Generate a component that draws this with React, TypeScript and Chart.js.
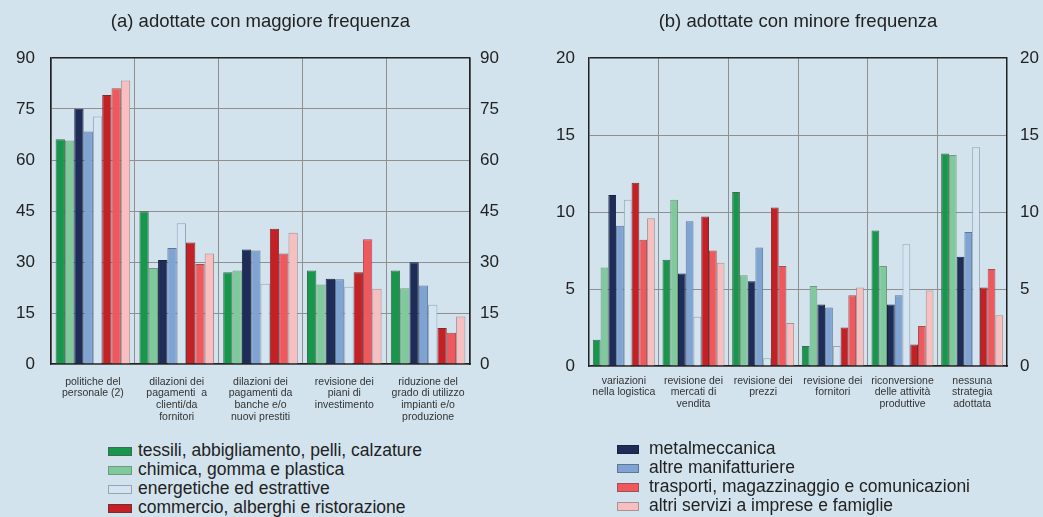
import React, { useEffect, useRef } from "react";
import { Chart, registerables } from "chart.js";
Chart.register(...registerables);

const FONT = "'Liberation Sans', Arial, Helvetica, sans-serif";
const BG = "#d2e3ed";

const seriesNames = [
  "tessili, abbigliamento, pelli, calzature",
  "chimica, gomma e plastica",
  "metalmeccanica",
  "altre manifatturiere",
  "energetiche ed estrattive",
  "commercio, alberghi e ristorazione",
  "trasporti, magazzinaggio e comunicazioni",
  "altri servizi a imprese e famiglie",
];
const seriesColors = ["#17964c", "#7fc99c", "#1e2c58", "#7fa3d3", "#d3e5f3", "#c42127", "#ef595d", "#f7bfc0"];
const seriesEdges = ["#3f6b50", "#6f9a80", "#1a2240", "#5f7694", "#98a4ae", "#7f2a2d", "#9e5254", "#a99192"];

// Panel (a)
const titleA = "(a) adottate con maggiore frequenza";
const categoriesA = [
  ["politiche del", "personale (2)"],
  ["dilazioni dei", "pagamenti  a", "clienti/da", "fornitori"],
  ["dilazioni dei", "pagamenti da", "banche e/o", "nuovi prestiti"],
  ["revisione dei", "piani di", "investimento"],
  ["riduzione del", "grado di utilizzo", "impianti e/o", "produzione"],
];
const tessiliA = [66.1, 44.9, 27.0, 27.5, 27.5];
const chimicaA = [65.7, 28.2, 27.5, 23.4, 22.3];
const metalA = [75.1, 30.6, 33.7, 25.1, 29.9];
const altreManA = [68.4, 34.1, 33.4, 24.9, 23.1];
const energA = [72.8, 41.4, 23.6, 22.7, 17.4];
const commA = [79.1, 35.7, 39.8, 27.0, 10.6];
const traspA = [81.1, 29.4, 32.5, 36.7, 9.2];
const altriServA = [83.4, 32.5, 38.6, 22.1, 14.0];
const yMaxA = 90;
const yStepA = 15;

// Panel (b)
const titleB = "(b) adottate con minore frequenza";
const categoriesB = [
  ["variazioni", "nella logistica"],
  ["revisione dei", "mercati di", "vendita"],
  ["revisione dei", "prezzi"],
  ["revisione dei", "fornitori"],
  ["riconversione", "delle attività", "produttive"],
  ["nessuna", "strategia", "adottata"],
];
const tessiliB = [1.7, 6.9, 11.3, 1.3, 8.8, 13.8];
const chimicaB = [6.4, 10.8, 5.9, 5.2, 6.5, 13.7];
const metalB = [11.1, 6.0, 5.5, 4.0, 4.0, 7.1];
const altreManB = [9.1, 9.4, 7.7, 3.8, 4.6, 8.7];
const energB = [10.8, 3.2, 0.5, 1.3, 7.9, 14.2];
const commB = [11.9, 9.7, 10.3, 2.5, 1.4, 5.1];
const traspB = [8.2, 7.5, 6.5, 4.6, 2.6, 6.3];
const altriServB = [9.6, 6.7, 2.8, 5.1, 4.9, 3.3];
const yMaxB = 20;
const yStepB = 5;

const legendLeftIdx = [0, 1, 4, 5];
const legendRightIdx = [2, 3, 6, 7];

type Dims = {
  leftW: number;
  rightW: number;
  xH: number;
  leftPad: number;
  rightPad: number;
  xPad: number;
};

function makeConfig(title: string, labels: string[][], series: number[][], yMax: number, step: number, d: Dims): any {
  const gridColor = (ctx: any) => (ctx.tick && ctx.tick.value === yMax ? "#222" : "#8f8f8f");
  const gridWidth = (ctx: any) => (ctx.tick && ctx.tick.value === yMax ? 1.5 : 1);
  return {
    type: "bar",
    data: {
      labels,
      datasets: series.map((vals, i) => ({
        label: seriesNames[i],
        data: vals,
        backgroundColor: seriesColors[i],
        borderColor: seriesEdges[i],
        borderWidth: 1,
        categoryPercentage: 0.89,
        barPercentage: 1,
        yAxisID: "y",
      })),
    },
    options: {
      responsive: false,
      maintainAspectRatio: false,
      animation: false,
      layout: { padding: 0 },
      plugins: {
        legend: { display: false },
        tooltip: { enabled: false },
        title: {
          display: true,
          text: title,
          fullSize: false,
          color: "#222",
          font: { family: FONT, size: 18.5, weight: "normal", lineHeight: 1.2 },
          padding: { top: 11, bottom: 24.8 },
        },
      },
      scales: {
        x: {
          position: "bottom",
          grid: { color: "#8f8f8f", offset: true, drawTicks: false },
          border: { color: "#222", width: 1.5 },
          ticks: {
            color: "#333",
            autoSkip: false,
            maxRotation: 0,
            minRotation: 0,
            padding: d.xPad,
            font: { family: FONT, size: 10.5, lineHeight: 1.115 },
          },
          afterFit: (s: any) => {
            s.height = d.xH;
          },
        },
        y: {
          position: "left",
          min: 0,
          max: yMax,
          grid: { color: gridColor, lineWidth: gridWidth, drawTicks: false },
          border: { color: "#222", width: 1.5 },
          ticks: { stepSize: step, color: "#222", padding: d.leftPad, font: { family: FONT, size: 17 } },
          afterFit: (s: any) => {
            s.width = d.leftW;
          },
        },
        y2: {
          position: "right",
          min: 0,
          max: yMax,
          grid: { drawOnChartArea: false, drawTicks: false },
          border: { color: "#222", width: 1.5 },
          ticks: { stepSize: step, color: "#222", padding: d.rightPad, font: { family: FONT, size: 17 } },
          afterFit: (s: any) => {
            s.width = d.rightW;
          },
        },
      },
    },
  };
}

function BarPanel(props: {
  title: string;
  labels: string[][];
  series: number[][];
  yMax: number;
  step: number;
  left: number;
  width: number;
  height: number;
  dims: Dims;
}) {
  const ref = useRef<HTMLCanvasElement | null>(null);
  useEffect(() => {
    if (!ref.current) return;
    const chart = new Chart(
      ref.current,
      makeConfig(props.title, props.labels, props.series, props.yMax, props.step, props.dims)
    );
    return () => chart.destroy();
  }, []);
  return (
    <canvas
      ref={ref}
      width={props.width}
      height={props.height}
      style={{ position: "absolute", left: props.left, top: 0, width: props.width, height: props.height }}
    />
  );
}

function LegendColumn(props: { idx: number[]; left: number; tops: number[]; gap: number; swW: number }) {
  return (
    <>
      {props.idx.map((si, k) => (
        <div
          key={si}
          style={{
            position: "absolute",
            left: props.left,
            top: props.tops[k] - 10,
            height: 20,
            display: "flex",
            alignItems: "center",
            whiteSpace: "nowrap",
            fontFamily: FONT,
            fontSize: 17.5,
            color: "#222",
          }}
        >
          <span
            style={{
              display: "inline-block",
              width: props.swW,
              height: 7,
              background: seriesColors[si],
              border: "1px solid " + seriesEdges[si],
              marginRight: props.gap,
              marginTop: 3,
            }}
          />
          <span>{seriesNames[si]}</span>
        </div>
      ))}
    </>
  );
}

export default function App() {
  const seriesA = [tessiliA, chimicaA, metalA, altreManA, energA, commA, traspA, altriServA];
  const seriesB = [tessiliB, chimicaB, metalB, altreManB, energB, commB, traspB, altriServB];
  return (
    <div
      style={{
        position: "absolute",
        left: 0,
        top: 0,
        width: 1043,
        height: 517,
        background: BG,
        overflow: "hidden",
      }}
    >
      <BarPanel
        title={titleA}
        labels={categoriesA}
        series={seriesA}
        yMax={yMaxA}
        step={yStepA}
        left={0}
        width={520}
        height={440}
        dims={{ leftW: 51, rightW: 50, xH: 76, leftPad: 16, rightPad: 10, xPad: 12 }}
      />
      <BarPanel
        title={titleB}
        labels={categoriesB}
        series={seriesB}
        yMax={yMaxB}
        step={yStepB}
        left={525}
        width={518}
        height={440}
        dims={{ leftW: 64, rightW: 36, xH: 74, leftPad: 14, rightPad: 13, xPad: 9 }}
      />
      <LegendColumn idx={legendLeftIdx} left={108} tops={[450, 469, 488, 507]} gap={6} swW={22} />
      <LegendColumn idx={legendRightIdx} left={617} tops={[448, 467, 486, 505]} gap={10} swW={20} />
    </div>
  );
}
